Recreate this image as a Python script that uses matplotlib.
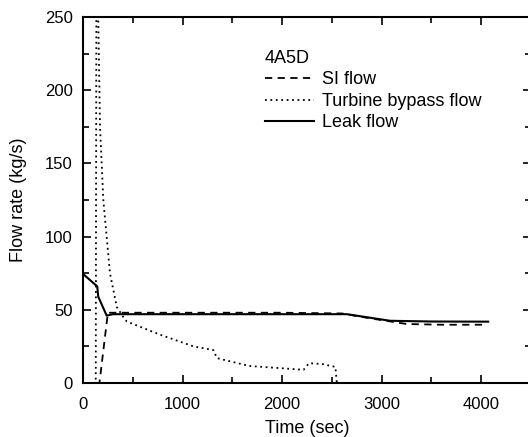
import matplotlib
matplotlib.use("Agg")
import matplotlib.pyplot as plt
from matplotlib.ticker import MultipleLocator

plt.rcParams['font.family'] = ['Liberation Sans', 'DejaVu Sans']

# Data
si_t = [0, 165, 250, 400, 1000, 2000, 2600, 2900, 3250, 3600, 4050]
si_v = [0, 0, 48, 48, 48, 48, 47.5, 44, 40.3, 39.8, 39.8]

bypass_t = [0, 128, 136, 153, 171, 204, 271, 339, 405, 440, 775, 1110, 1310, 1345,
            1630, 1680, 2215, 2270, 2400, 2535, 2550]
bypass_v = [0, 0, 320, 250, 175, 125, 75, 52, 45, 42, 33, 25, 22.5, 17,
            12.3, 11.6, 9, 13.5, 13, 11, 0]

leak_t = [0, 143, 153, 238, 300, 1000, 2000, 2650, 3085, 3500, 4070]
leak_v = [74.5, 66, 59, 46, 47, 47, 47, 47, 42.5, 42, 41.9]

xticks = [0, 1000, 2000, 3000, 4000]
yticks = [0, 50, 100, 150, 200, 250]

fig = plt.figure(figsize=(5.28, 4.37), dpi=100)
ax = fig.add_axes([83/528, 54/437, 448/528, 366/437])

ax.plot(si_t, si_v, color='black', linestyle=(0, (4, 3)), linewidth=1.3, label='SI flow')
ax.plot(bypass_t, bypass_v, color='black', linestyle=(0, (1, 2)), linewidth=1.3,
        label='Turbine bypass flow')
ax.plot(leak_t, leak_v, color='black', linestyle='-', linewidth=1.5, label='Leak flow')

ax.set_xlim(0, 4500)
ax.set_ylim(0, 250)
ax.set_xticks(xticks)
ax.set_yticks(yticks)
ax.xaxis.set_minor_locator(MultipleLocator(500))
ax.yaxis.set_minor_locator(MultipleLocator(25))
ax.tick_params(which='both', direction='in', top=True, right=True, labelsize=12,
               width=1.2, color='black')
ax.tick_params(which='major', length=6)
ax.tick_params(which='minor', length=4)
ax.tick_params(axis='x', which='major', pad=10)
ax.tick_params(axis='y', which='major', pad=7.5)
for s in ax.spines.values():
    s.set_linewidth(1.5)

ax.set_xlabel('Time (sec)', fontsize=13, labelpad=6)
ax.set_ylabel('Flow rate (kg/s)', fontsize=13, labelpad=13)

leg = ax.legend(title='4A5D', alignment='left', frameon=False, fontsize=13,
                title_fontsize=13, handlelength=2.7, handletextpad=0.45,
                labelspacing=0.25, loc='upper left',
                bbox_to_anchor=(0.39, 0.93), borderaxespad=0)

fig.savefig('out.png', dpi=100)
